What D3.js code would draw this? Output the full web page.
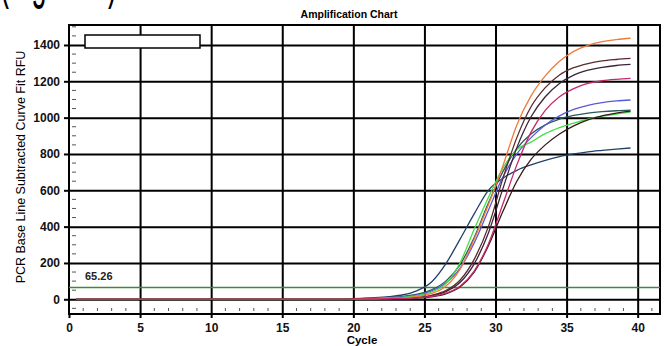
<!DOCTYPE html>
<html>
<head>
<meta charset="utf-8">
<script src="https://cdn.jsdelivr.net/npm/d3@7"></script>
<style>
  body { margin: 0; background: #fff; }
  svg { display: block; font-family: "Liberation Sans", Arial, sans-serif; }
</style>
</head>
<body>
<div class="chart"></div>
<script>
// ---- data ----
const cycles = [1,2,3,4,5,6,7,8,9,10,11,12,13,14,15,16,17,18,19,20,
                21,22,23,24,25,26,27,28,29,30,31,32,33,34,35,36,37,38,39,40];
const base = [0,0,0,0,0,0,0,0,0,0,0,0,0,0,0,0,0,0,0];   // cycles 1-19

const navy       = base.concat([2,5,9,15,25,48,95,195,330,470,600,665,710,740,765,785,800,812,820,827,833]);
const teal       = base.concat([1,3,6,10,16,28,52,100,190,340,530,700,830,910,960,992,1012,1025,1033,1038,1041]);
const blue       = base.concat([1,2,5,8,13,24,46,90,170,310,490,670,800,890,960,1010,1045,1068,1083,1092,1097]);
const green      = base.concat([1,2,4,7,11,20,40,85,200,385,560,720,825,865,912,945,970,992,1008,1020,1030]);
const blackLate  = base.concat([0,1,2,3,4,7,14,30,68,150,295,480,650,770,850,910,955,988,1010,1025,1036]);
const darkPurple = base.concat([0,1,2,3,5,9,19,42,92,195,365,605,835,1005,1115,1188,1234,1261,1277,1287,1293]);
const darkBrown  = base.concat([0,1,2,4,6,11,22,48,105,220,400,660,890,1060,1165,1235,1275,1298,1312,1320,1326]);
const orange     = base.concat([0,1,3,5,8,15,32,72,165,330,520,730,960,1120,1230,1310,1365,1398,1418,1430,1437]);
const crimson    = base.concat([0,1,2,3,4,8,16,34,72,155,305,520,740,920,1040,1115,1160,1188,1203,1211,1216]);

const seriesNames  = ["navy","teal","blue","green","blackLate","darkPurple","darkBrown","orange","crimson"];
const seriesValues = [navy, teal, blue, green, blackLate, darkPurple, darkBrown, orange, crimson];
const seriesColors = ["#22406a","#2a5a5a","#5a5ad8","#44dd44","#3a1818","#3a2538","#5a2a30","#f07a3a","#c8286a"];

const xTicks = [0,5,10,15,20,25,30,35,40];
const yTicks = [0,200,400,600,800,1000,1200,1400];
const threshold = 65.26;

// ---- layout ----
const w = 668, h = 346;
const pLeft = 69, pRight = 660, pTop = 25, pBottom = 314;

const svg = d3.select(".chart").append("svg")
  .attr("width", w).attr("height", h);

// caption above the chart, cropped by the top edge so only its descenders show
svg.append("text")
  .attr("transform", "translate(0,-3) scale(1,2.1)")
  .attr("x", 0).attr("y", 0)
  .attr("font-size", 27)
  .text("(Figure 1)");

const x = d3.scaleLinear().domain([0, 41.57]).range([pLeft, pRight]);
const y = d3.scaleLinear().domain([-81, 1510]).range([pBottom, pTop]);

svg.append("rect")
  .attr("x", pLeft).attr("y", pTop)
  .attr("width", pRight - pLeft).attr("height", pBottom - pTop)
  .attr("fill", "#fff");

// minor ticks
const yMinor = d3.range(-50, 1510, 50).filter(v => v % 200 !== 0);
svg.append("g").selectAll("line").data(yMinor).enter().append("line")
  .attr("x1", pLeft + 3).attr("x2", pLeft + 7)
  .attr("y1", d => y(d)).attr("y2", d => y(d))
  .attr("stroke", "#555").attr("stroke-width", 1);

const xMinor = d3.range(1, 42).filter(v => v % 5 !== 0);
svg.append("g").selectAll("line").data(xMinor).enter().append("line")
  .attr("x1", d => x(d)).attr("x2", d => x(d))
  .attr("y1", pBottom - 6).attr("y2", pBottom - 3)
  .attr("stroke", "#555").attr("stroke-width", 1);

// grid
svg.append("g")
  .attr("transform", "translate(" + pLeft + ",0)")
  .call(d3.axisLeft(y).tickValues(yTicks).tickSize(-(pRight - pLeft)).tickFormat(""))
  .call(g => g.select(".domain").remove())
  .selectAll("line").attr("stroke", "#000").attr("stroke-width", 2);

svg.append("g")
  .attr("transform", "translate(0," + pBottom + ")")
  .call(d3.axisBottom(x).tickValues(xTicks.slice(1)).tickSize(-(pBottom - pTop)).tickFormat(""))
  .call(g => g.select(".domain").remove())
  .selectAll("line").attr("stroke", "#000").attr("stroke-width", 2);

// axes with labels
const yAxis = svg.append("g")
  .attr("transform", "translate(" + pLeft + ",0)")
  .call(d3.axisLeft(y).tickValues(yTicks).tickFormat(d3.format("d")).tickSize(5).tickPadding(4));
yAxis.select(".domain").remove();
yAxis.selectAll("line").attr("stroke", "#000").attr("stroke-width", 2);
yAxis.selectAll("text").attr("font-size", 12).attr("font-weight", "bold")
  .attr("font-family", "Liberation Sans, Arial, sans-serif").attr("fill", "#111");

const xAxis = svg.append("g")
  .attr("transform", "translate(0," + pBottom + ")")
  .call(d3.axisBottom(x).tickValues(xTicks).tickFormat(d3.format("d")).tickSize(4).tickPadding(5));
xAxis.select(".domain").remove();
xAxis.selectAll("line").attr("stroke", "#000").attr("stroke-width", 2);
xAxis.selectAll("text").attr("font-size", 12).attr("font-weight", "bold")
  .attr("font-family", "Liberation Sans, Arial, sans-serif").attr("fill", "#111");

// frame
svg.append("rect")
  .attr("x", pLeft).attr("y", pTop)
  .attr("width", pRight - pLeft).attr("height", pBottom - pTop)
  .attr("fill", "none").attr("stroke", "#000").attr("stroke-width", 2);

// threshold
svg.append("line")
  .attr("x1", pLeft).attr("x2", pRight)
  .attr("y1", y(threshold)).attr("y2", y(threshold))
  .attr("stroke", "#3c8a3c").attr("stroke-width", 1.5);
svg.append("text")
  .attr("x", 85).attr("y", y(threshold) - 7)
  .attr("font-size", 11).attr("font-weight", "bold").attr("fill", "#222")
  .text(threshold.toFixed(2));

// curves
const line = d3.line()
  .x((d, i) => x(cycles[i] - 0.5))
  .y(d => y(d))
  .curve(d3.curveMonotoneX);

svg.append("g").selectAll("path")
  .data(seriesValues).enter().append("path")
  .attr("class", (d, i) => "curve " + seriesNames[i])
  .attr("d", line)
  .attr("fill", "none")
  .attr("stroke", (d, i) => seriesColors[i])
  .attr("stroke-width", 1.3);

// empty legend box
svg.append("rect")
  .attr("x", 85).attr("y", 35).attr("width", 115).attr("height", 13)
  .attr("fill", "#fff").attr("stroke", "#000").attr("stroke-width", 1.5);

// titles
svg.append("text")
  .attr("x", 349).attr("y", 18)
  .attr("text-anchor", "middle")
  .attr("font-size", 10.5).attr("font-weight", "bold")
  .text("Amplification Chart");

svg.append("text")
  .attr("x", 362).attr("y", 344)
  .attr("text-anchor", "middle")
  .attr("font-size", 11.5).attr("font-weight", "bold")
  .text("Cycle");

svg.append("text")
  .attr("transform", "translate(25,167) rotate(-90)")
  .attr("text-anchor", "middle")
  .attr("font-size", 12.5)
  .text("PCR Base Line Subtracted Curve Fit RFU");
</script>
</body>
</html>
